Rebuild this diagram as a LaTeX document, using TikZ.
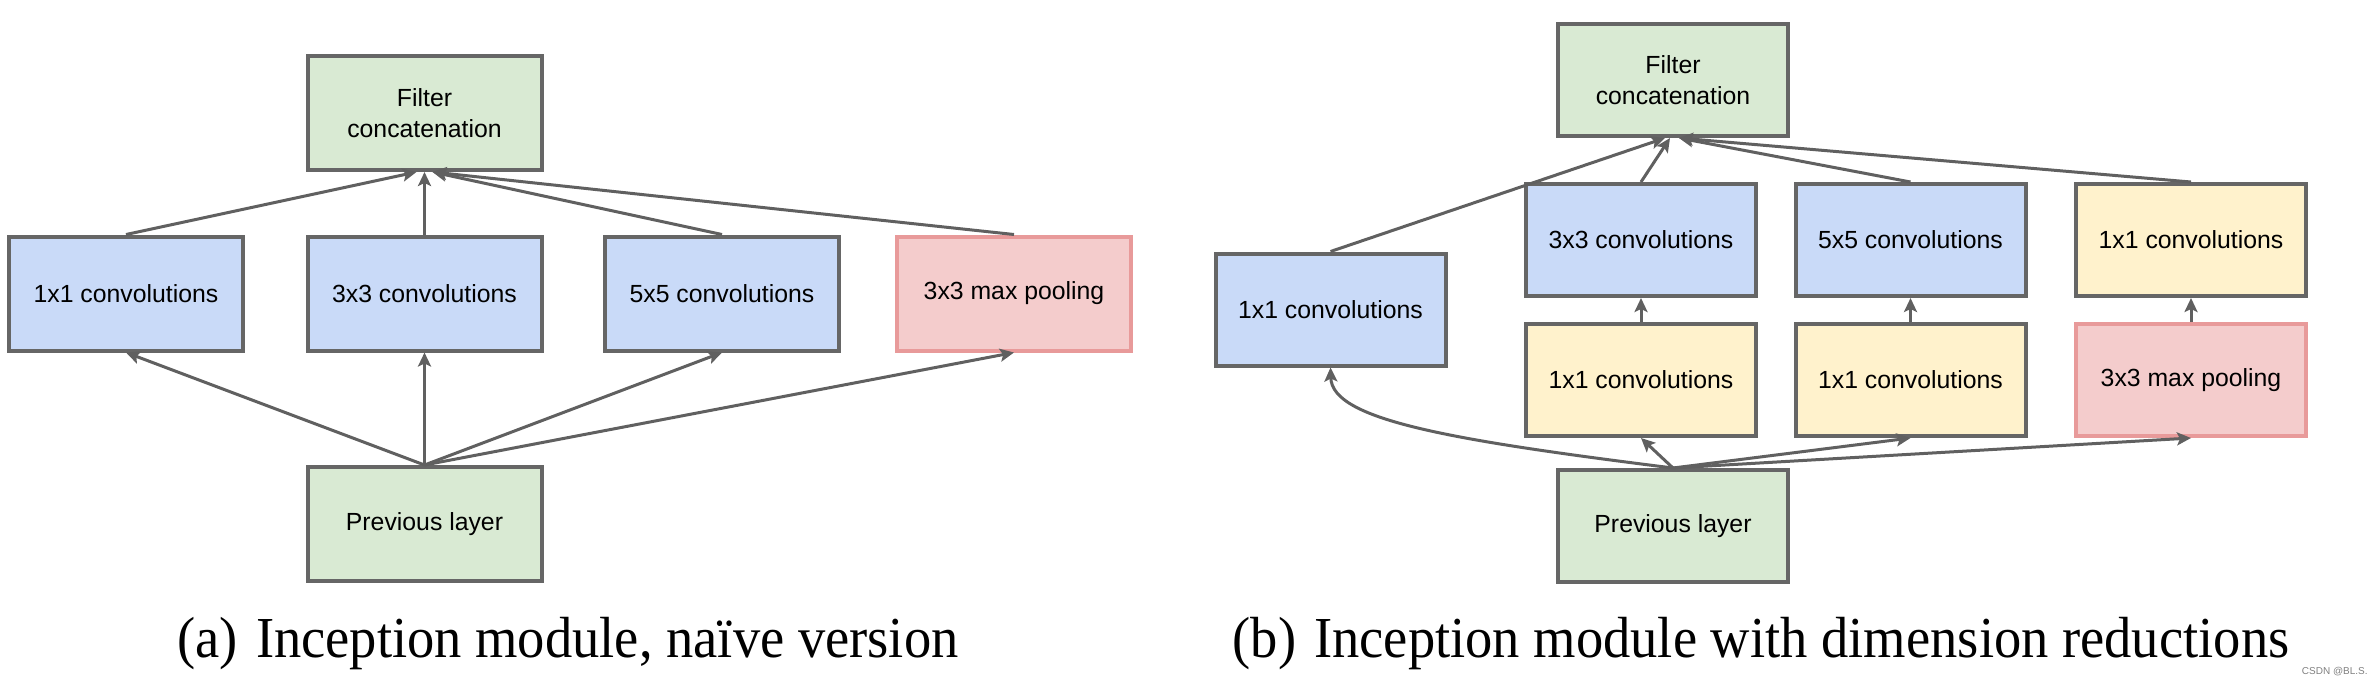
\documentclass[tikz,border=0pt]{standalone}
\usepackage{fontspec}
\setmainfont{Liberation Serif}
\newfontfamily\boxfont{Liberation Sans}
\usetikzlibrary{arrows.meta}
\definecolor{bgreen}{HTML}{D9EAD3}
\definecolor{bblue}{HTML}{C9DAF8}
\definecolor{bred}{HTML}{F4CCCC}
\definecolor{bredline}{HTML}{E89A9A}
\definecolor{byellow}{HTML}{FFF2CC}
\definecolor{bline}{HTML}{666666}
\definecolor{aline}{HTML}{606060}
\tikzset{
  blk/.style={draw=bline, line width=2pt, minimum width=117pt, minimum height=57pt,
    inner sep=0pt, align=center, font=\boxfont\fontsize{12.4pt}{15.5pt}\selectfont},
  blkb/.style={blk, minimum width=115pt, minimum height=56pt},
  gbox/.style={fill=bgreen},
  ubox/.style={fill=bblue},
  rbox/.style={fill=bred, draw=bredline},
  ybox/.style={fill=byellow},
  arr/.style={draw=aline, line width=1.5pt, -{Stealth[length=7pt,width=6.5pt,inset=1.5pt]}},
  capt/.style={font=\fontsize{29pt}{32pt}\selectfont, anchor=base, xscale=0.94}
}
\begin{document}
\begin{tikzpicture}[x=0.5pt,y=-0.5pt]
\useasboundingbox (0,0) rectangle (2372,682);
% ---------- (a) naive ----------
\node[blk,gbox] (fa) at (424.5,113) {Filter\\concatenation};
\node[blk,ubox] (a1) at (126,293.5) {1x1 convolutions};
\node[blk,ubox] (a3) at (424.5,293.5) {3x3 convolutions};
\node[blk,ubox] (a5) at (722,293.5) {5x5 convolutions};
\node[blk,rbox] (ap) at (1014,293.5) {3x3 max pooling};
\node[blk,gbox] (aprev) at (424.5,524) {Previous layer};
\draw[arr] (a1.north) -- ([xshift=-4pt]fa.south);
\draw[arr] (a3.north) -- (fa.south);
\draw[arr] (a5.north) -- ([xshift=4pt]fa.south);
\draw[arr] (ap.north) -- ([xshift=4pt]fa.south);
\draw[arr] (aprev.north) -- (a1.south);
\draw[arr] (aprev.north) -- (a3.south);
\draw[arr] (aprev.north) -- (a5.south);
\draw[arr] (aprev.north) -- (ap.south);
\node[capt] (capa) at (568,657) {(a)\hspace{0.33em}Inception module, naïve version};
% ---------- (b) reductions ----------
\node[blkb,gbox] (fb) at (1673,80) {Filter\\concatenation};
\node[blkb,ubox] (b1) at (1330.5,309.5) {1x1 convolutions};
\node[blkb,ubox] (b3) at (1641,240) {3x3 convolutions};
\node[blkb,ubox] (b5) at (1910.5,240) {5x5 convolutions};
\node[blkb,ybox] (b1r) at (2191,240) {1x1 convolutions};
\node[blkb,ybox] (by1) at (1641,380) {1x1 convolutions};
\node[blkb,ybox] (by2) at (1910.5,380) {1x1 convolutions};
\node[blkb,rbox] (bp) at (2191,380) {3x3 max pooling};
\node[blkb,gbox] (bprev) at (1673,526) {Previous layer};
\draw[arr] (b1.north) -- ([xshift=-4pt]fb.south);
\draw[arr] (b3.north) -- ([xshift=-1.5pt]fb.south);
\draw[arr] (b5.north) -- ([xshift=3pt]fb.south);
\draw[arr] (b1r.north) -- ([xshift=3pt]fb.south);
\draw[arr] (by1.north) -- (b3.south);
\draw[arr] (by2.north) -- (b5.south);
\draw[arr] (bp.north) -- (b1r.south);
\draw[arr] (bprev.north) .. controls (1450,440) and (1332,420) .. (b1.south);
\draw[arr] (bprev.north) -- (by1.south);
\draw[arr] (bprev.north) -- (by2.south);
\draw[arr] (bprev.north) -- (bp.south);
\node[capt] (capb) at (1761,657) {(b)\hspace{0.33em}Inception module with dimension reductions};
\node[font=\boxfont\fontsize{5pt}{6pt}\selectfont, text=gray, anchor=east, inner sep=0pt] (wm) at (2368,672) {CSDN @BL.S.};
\end{tikzpicture}
\end{document}
